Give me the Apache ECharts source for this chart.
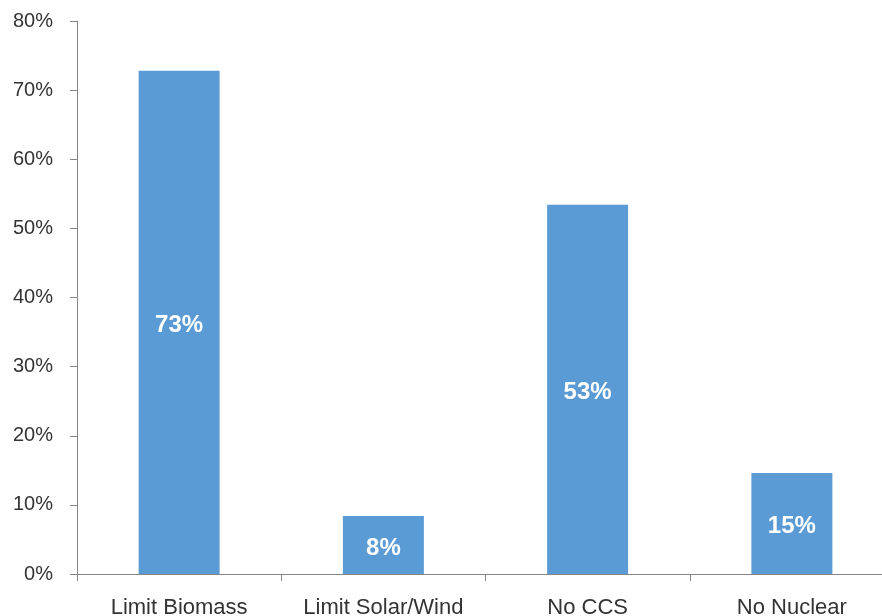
<!DOCTYPE html>
<html>
<head>
<meta charset="utf-8">
<style>
  html, body { margin: 0; padding: 0; background: #fff; overflow: hidden; }
  #wrap { width: 882px; height: 616px; overflow: hidden; }
  #chart { width: 910px; height: 616px; }
</style>
<script src="https://cdn.jsdelivr.net/npm/echarts@6/dist/echarts.min.js"></script>
</head>
<body>
<div id="wrap"><div id="chart"></div></div>
<script>
// Scenario categories and share values (percent)
const categories = ['Limit Biomass', 'Limit Solar/Wind', 'No CCS', 'No Nuclear'];
const shares = [72.8, 8.4, 53.4, 14.6];
const yTicks = [0, 10, 20, 30, 40, 50, 60, 70, 80];

const axisColor = '#868686';
const textColor = '#333333';

const chart = echarts.init(document.getElementById('chart'), null, { renderer: 'canvas' });

chart.setOption({
  animation: false,
  grid: {
    left: 77, top: 21, width: 817, height: 553,
    containLabel: false,
    outerBoundsMode: 'none'
  },
  xAxis: {
    type: 'category',
    data: categories,
    axisLine: { show: true, lineStyle: { color: axisColor, width: 1 } },
    axisTick: { show: true, length: 7, lineStyle: { color: axisColor } },
    axisLabel: {
      interval: 0,
      color: textColor,
      fontFamily: 'Liberation Sans, Arial, sans-serif',
      fontSize: 22,
      margin: 23
    },
    splitLine: { show: false }
  },
  yAxis: {
    type: 'value',
    min: yTicks[0],
    max: yTicks[yTicks.length - 1],
    interval: 10,
    axisLine: { show: true, lineStyle: { color: axisColor, width: 1 } },
    axisTick: { show: true, length: 7, lineStyle: { color: axisColor } },
    axisLabel: {
      color: textColor,
      fontFamily: 'Liberation Sans, Arial, sans-serif',
      fontSize: 20,
      margin: 24,
      formatter: v => v + '%'
    },
    splitLine: { show: false }
  },
  series: [{
    type: 'bar',
    data: shares,
    barWidth: 81,
    itemStyle: { color: '#5B9BD5' },
    label: {
      show: true,
      position: 'inside',
      offset: [0, 3],
      color: '#ffffff',
      fontFamily: 'Liberation Sans, Arial, sans-serif',
      fontWeight: 'bold',
      fontSize: 24,
      formatter: p => Math.round(p.value) + '%'
    }
  }]
});
</script>
</body>
</html>
